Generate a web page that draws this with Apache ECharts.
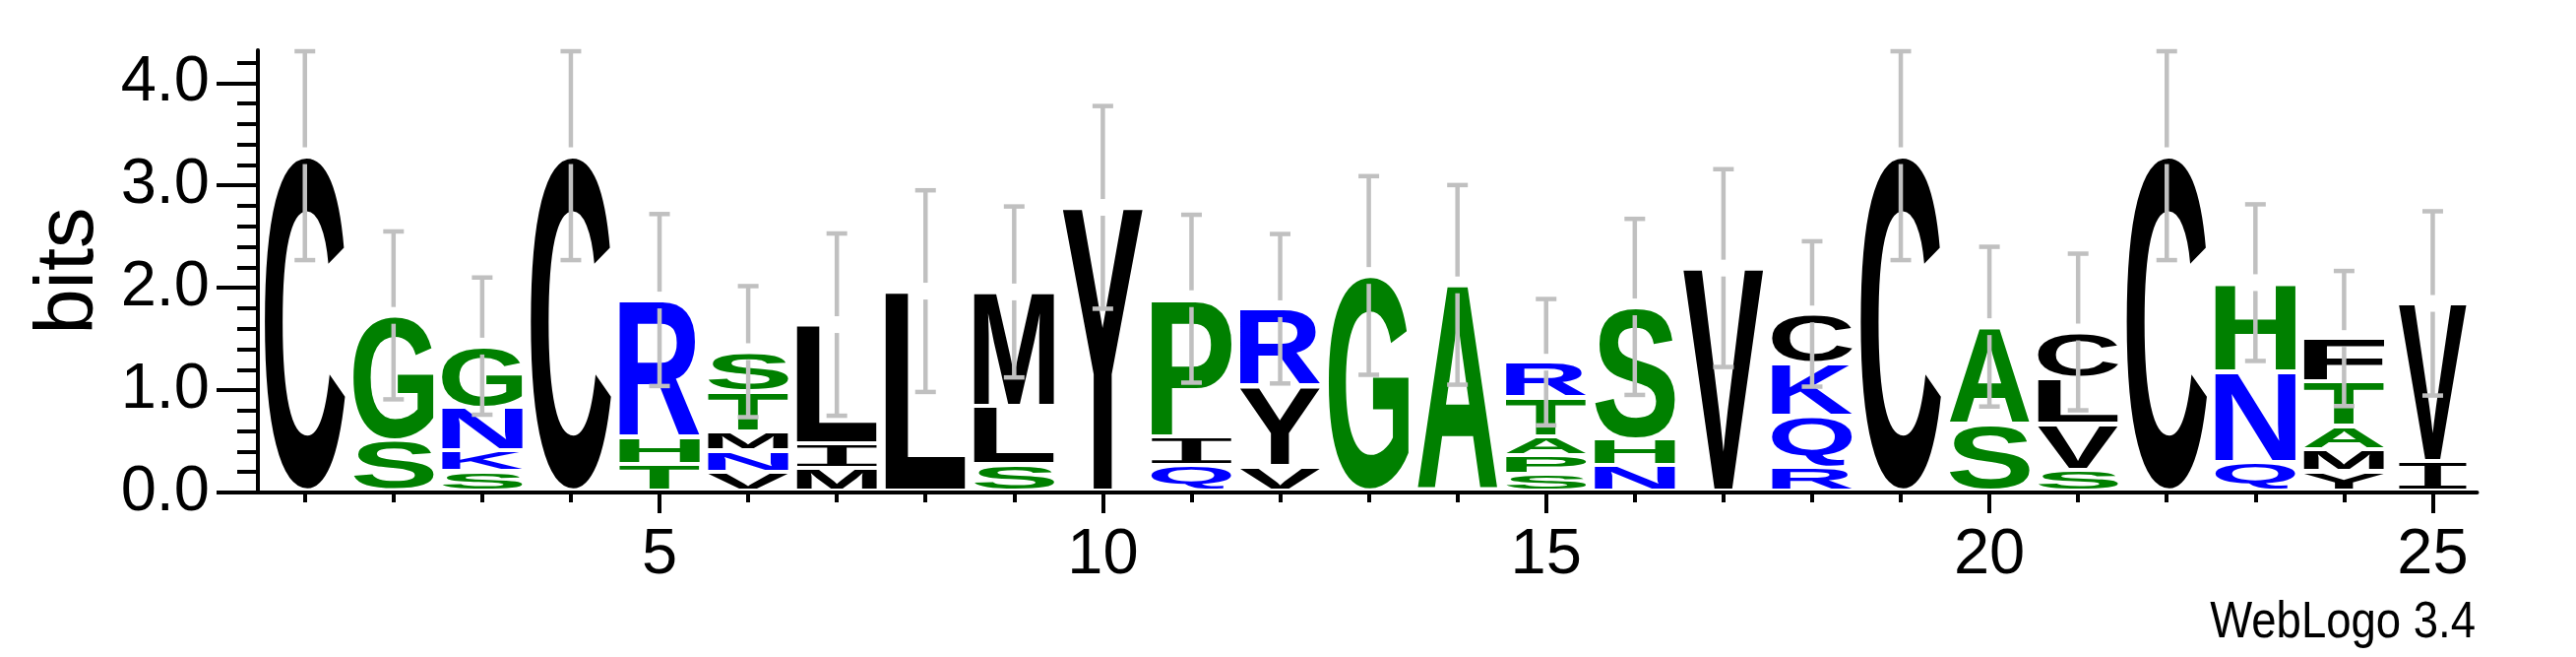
<!DOCTYPE html>
<html>
<head>
<meta charset="utf-8">
<script src="https://cdn.jsdelivr.net/npm/echarts@6/dist/echarts.min.js"></script>
<style>
html,body{margin:0;padding:0;background:#fff;}
#chart{width:2617px;height:667px;}
</style>
</head>
<body>
<div id="chart"></div>
<script>
const positions = [1,2,3,4,5,6,7,8,9,10,11,12,13,14,15,16,17,18,19,20,21,22,23,24,25];
// letters of each stack, bottom to top
const stackLetters = ["C","SG","SKNG","C","THR","VNMTS","MIL","L","SLM","Y","QIP","VYR","G","A","SPATR","NHS","V","RQKC","C","SA","SVLC","C","QNH","YMATF","IV"];
// letter heights in bits, bottom to top
const stackHeights = [
  [3.27],
  [0.49,1.22],
  [0.19,0.20,0.42,0.60],
  [3.27],
  [0.256,0.264,1.34],
  [0.186,0.204,0.19,0.39,0.386],
  [0.224,0.234,1.162],
  [1.947],
  [0.257,0.567,1.115],
  [2.765],
  [0.253,0.273,1.347],
  [0.24,0.78,0.755],
  [2.10],
  [2.008],
  [0.16,0.183,0.189,0.375,0.346],
  [0.247,0.256,1.29],
  [2.172],
  [0.23,0.504,0.513,0.477],
  [3.27],
  [0.65,0.95],
  [0.2,0.45,0.45,0.448],
  [3.27],
  [0.28,0.887,0.863],
  [0.19,0.214,0.226,0.437,0.417],
  [0.29,1.537]
];
// half length of each error bar, bits
const errorHalf = [1.02,0.82,0.67,1.02,0.84,0.64,0.89,0.985,0.835,0.99,0.82,0.73,0.97,0.975,0.617,0.86,0.966,0.71,1.02,0.78,0.765,1.02,0.765,0.66,0.9];
const xTickLabels = [5,10,15,20,25];
const yTickLabels = [0,1,2,3,4];
const yMinorTicks = [0,0.2,0.4,0.6,0.8,1,1.2,1.4,1.6,1.8,2,2.2,2.4,2.6,2.8,3,3.2,3.4,3.6,3.8,4,4.2];

// ---- styling ----
const GREEN = '#008000', BLUE = '#0000ff', BLACK = '#000000';
const letterColor = {G:GREEN,S:GREEN,T:GREEN,H:GREEN,P:GREEN,A:GREEN,
  N:BLUE,K:BLUE,R:BLUE,Q:BLUE,
  C:BLACK,M:BLACK,V:BLACK,I:BLACK,L:BLACK,Y:BLACK,F:BLACK};
const BASE = 0.02;   // stacks sit just above the axis line
const INSET = 2;     // px gap between stacked letters
const FS = 200;
function fontFor(ch){
  return ch === 'I' ? 'normal ' + FS + 'px "DejaVu Sans Mono"' : 'bold ' + FS + 'px "Liberation Sans"';
}
const mcanvas = document.createElement('canvas');
const mctx = mcanvas.getContext('2d');
const mcache = {};
function measure(ch, font){
  const k = ch + '|' + font;
  if (mcache[k]) return mcache[k];
  mctx.font = font;
  mctx.textAlign = 'left';
  mctx.textBaseline = 'middle';
  const m = mctx.measureText(ch);
  const r = {L:m.actualBoundingBoxLeft, R:m.actualBoundingBoxRight, A:m.actualBoundingBoxAscent, D:m.actualBoundingBoxDescent};
  mcache[k] = r;
  return r;
}

function renderStack(params, api){
  const i = params.dataIndex;
  const pos = api.value(0);
  const letters = stackLetters[i], hs = stackHeights[i];
  const unitW = api.size([1,0])[0];
  const w = unitW * (i === positions.length - 1 ? 0.765 : 0.905);
  const cx = api.coord([pos,0])[0];
  let b = BASE;
  const children = [];
  for (let j = 0; j < letters.length; j++){
    const ch = letters[j];
    const t = b + hs[j];
    const yb = api.coord([pos,b])[1] - INSET;
    const yt = api.coord([pos,t])[1] + INSET;
    const font = fontFor(ch);
    const m = measure(ch, font);
    const sx = w / (m.L + m.R);
    const sy = (yb - yt) / (m.A + m.D);
    children.push({
      type:'text',
      x: cx - w/2 + m.L*sx,
      y: yt + m.A*sy,
      scaleX: sx, scaleY: sy,
      style:{text:ch, font:font, fill:letterColor[ch], align:'left', verticalAlign:'middle'}
    });
    b = t;
  }
  return {type:'group', children:children};
}

function renderErr(params, api){
  const pos = api.value(0), c = api.value(1), e = api.value(2);
  const pc = api.coord([pos,c]), pt = api.coord([pos,c+e]), pb = api.coord([pos,c-e]);
  const x = pc[0], gap = 8.5, cap = 10.5;
  const st = {stroke:'#c0c0c0', lineWidth:4.5};
  return {type:'group', children:[
    {type:'line', shape:{x1:x,y1:pt[1],x2:x,y2:pc[1]-gap}, style:st},
    {type:'line', shape:{x1:x,y1:pc[1]+gap,x2:x,y2:pb[1]}, style:st},
    {type:'line', shape:{x1:x-cap,y1:pt[1],x2:x+cap,y2:pt[1]}, style:st},
    {type:'line', shape:{x1:x-cap,y1:pb[1],x2:x+cap,y2:pb[1]}, style:st}
  ]};
}

const stackData = positions.map((p,i)=>[p, stackHeights[i].reduce((a,v)=>a+v,0)]);
const errData = positions.map((p,i)=>[p, BASE + stackHeights[i].reduce((a,v)=>a+v,0), errorHalf[i]]);

const tickLine = {color:'#000', width:4};
const labelFont = {fontSize:65, fontFamily:'"Liberation Sans"', color:'#000'};

const chart = echarts.init(document.getElementById('chart'), null, {renderer:'canvas'});
chart.setOption({
  animation:false,
  backgroundColor:'#fff',
  grid:{left:262, right:100.5, top:51, bottom:167},
  xAxis:[
    {type:'value', min:0.47, max:25.5, position:'bottom',
     axisLine:{show:true, lineStyle:tickLine},
     axisTick:{show:true, length:10, lineStyle:tickLine, customValues:positions},
     axisLabel:{show:false}, splitLine:{show:false}},
    {type:'value', min:0.47, max:25.5, position:'bottom',
     axisLine:{show:false},
     axisTick:{show:true, length:21, lineStyle:tickLine, customValues:xTickLabels},
     axisLabel:Object.assign({show:true, margin:32, customValues:xTickLabels}, labelFont),
     splitLine:{show:false}}
  ],
  yAxis:[
    {type:'value', min:0, max:4.32, position:'left',
     axisLine:{show:true, lineStyle:tickLine},
     axisTick:{show:true, length:42, lineStyle:tickLine, customValues:yTickLabels},
     axisLabel:Object.assign({show:true, margin:49, customValues:yTickLabels, formatter:v=>Number(v).toFixed(1)}, labelFont),
     splitLine:{show:false}},
    {type:'value', min:0, max:4.32, position:'left',
     axisLine:{show:false},
     axisTick:{show:true, length:21, lineStyle:tickLine, customValues:yMinorTicks},
     axisLabel:{show:false}, splitLine:{show:false}}
  ],
  graphic:[
    {type:'text', x:71, y:275, rotation:Math.PI/2,
     style:{text:'bits', font:'83px "Liberation Sans"', fill:'#000', align:'center', verticalAlign:'middle'}},
    {type:'text', x:2515, y:633, scaleX:0.875,
     style:{text:'WebLogo 3.4', font:'52px "Liberation Sans"', fill:'#000', align:'right', verticalAlign:'middle'}}
  ],
  series:[
    {type:'custom', xAxisIndex:0, yAxisIndex:0, clip:false, z:2,
     renderItem:renderStack, data:stackData},
    {type:'custom', xAxisIndex:0, yAxisIndex:0, clip:false, z:3,
     renderItem:renderErr, data:errData}
  ]
});
</script>
</body>
</html>
